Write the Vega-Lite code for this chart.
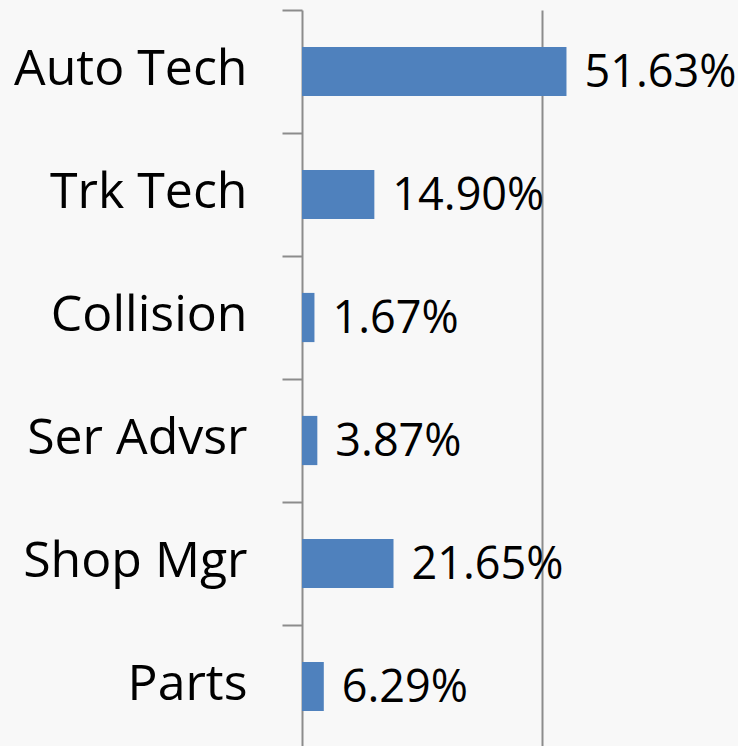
{
  "$schema": "https://vega.github.io/schema/vega-lite/v6.json",
  "width": 436,
  "height": 738,
  "autosize": "none",
  "padding": {"left": 302, "top": 10, "right": 0, "bottom": 0},
  "background": "#f8f8f8",
  "config": {"view": {"stroke": null}},
  "data": {
    "values": [
      {"role": "Auto Tech", "share": 55.2, "label": "51.63%"},
      {"role": "Trk Tech", "share": 15.1, "label": "14.90%"},
      {"role": "Collision", "share": 2.6, "label": "1.67%"},
      {"role": "Ser Advsr", "share": 3.2, "label": "3.87%"},
      {"role": "Shop Mgr", "share": 19.1, "label": "21.65%"},
      {"role": "Parts", "share": 4.55, "label": "6.29%"}
    ]
  },
  "encoding": {
    "y": {
      "field": "role",
      "type": "nominal",
      "sort": null,
      "scale": {"paddingInner": 0, "paddingOuter": 0},
      "axis": {
        "title": null,
        "labelFont": "Open Sans",
        "labelFontSize": 50,
        "labelColor": "#000000",
        "labelLimit": 0,
        "labelPadding": 35,
        "labelOffset": -2,
        "tickSize": 20,
        "tickWidth": 2,
        "tickColor": "#8c8c8c",
        "tickBand": "extent",
        "domainColor": "#8c8c8c",
        "domainWidth": 2
      }
    },
    "x": {
      "field": "share",
      "type": "quantitative",
      "scale": {"domain": [0, 91], "nice": false},
      "axis": {
        "title": null,
        "values": [50],
        "labels": false,
        "ticks": false,
        "domain": false,
        "grid": true,
        "gridColor": "#8c8c8c",
        "gridWidth": 2
      }
    }
  },
  "layer": [
    {"mark": {"type": "bar", "color": "#4f81bd", "height": {"band": 0.4}}},
    {
      "mark": {
        "type": "text",
        "align": "left",
        "baseline": "middle",
        "dx": 18,
        "dy": 1,
        "font": "Open Sans",
        "fontSize": 45,
        "color": "#000000"
      },
      "encoding": {"text": {"field": "label"}}
    }
  ]
}
